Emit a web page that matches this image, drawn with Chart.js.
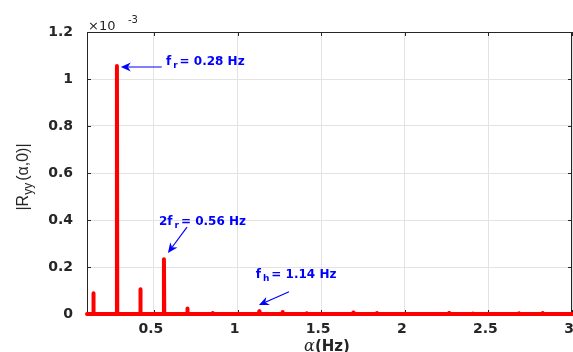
<!DOCTYPE html>
<html>
<head>
<meta charset="utf-8">
<script src="https://cdn.jsdelivr.net/npm/chart.js@4.4.0/dist/chart.umd.min.js"></script>
<style>
html, body { margin: 0; padding: 0; background: #fff; }
#wrap { width: 573px; height: 352px; }
</style>
</head>
<body>
<div id="wrap"><canvas id="cycChart" width="573" height="352"></canvas></div>
<script>
// Spectral lines: cyclic frequency (Hz) and |Ryy(alpha,0)| in units of 1e-3
const peakFreqs = [0.138, 0.279, 0.419, 0.560, 0.700, 0.852, 1.130, 1.269, 1.414, 1.692, 1.834, 2.265, 2.408, 2.683, 2.825];
const peakValues = [0.088, 1.055, 0.105, 0.233, 0.023, 0.004, 0.012, 0.009, 0.003, 0.006, 0.004, 0.004, 0.002, 0.003, 0.004];
const alphaRange = [0.1, 3];

const xTicks = [0.5, 1, 1.5, 2, 2.5, 3];
const xTickLabels = ['0.5', '1', '1.5', '2', '2.5', '3'];
const yTicks = [0, 0.2, 0.4, 0.6, 0.8, 1, 1.2];
const yTickLabels = ['0', '0.2', '0.4', '0.6', '0.8', '1', '1.2'];

// Text arrows, in data coordinates
const notes = [
    { main: 'f', sub: 'r', rest: '= 0.28 Hz', at: [0.572, 1.072], from: [0.547, 1.051], to: [0.302, 1.051] },
    { main: '2f', sub: 'r', rest: '= 0.56 Hz', at: [0.530, 0.393], from: [0.698, 0.370], to: [0.584, 0.260] },
    { main: 'f', sub: 'h', rest: '= 1.14 Hz', at: [1.109, 0.166], from: [1.308, 0.095], to: [1.128, 0.038] }
];

// build the line: flat zero with a narrow spike at each line
const spectrum = [{ x: alphaRange[0], y: 0 }];
peakFreqs.forEach((f, i) => {
    spectrum.push({ x: f - 0.002, y: 0 });
    spectrum.push({ x: f, y: peakValues[i] });
    spectrum.push({ x: f + 0.002, y: 0 });
});
spectrum.push({ x: alphaRange[1], y: 0 });

const axisColor = '#262626';
const tickFont = { family: '"DejaVu Sans"', size: 14, weight: 'bold' };

function drawArrow(ctx, x1, y1, x2, y2) {
    const a = Math.atan2(y2 - y1, x2 - x1);
    const L = 10, W = 4.5, notch = 3;
    const dx = Math.cos(a), dy = Math.sin(a);
    ctx.beginPath();
    ctx.moveTo(x1, y1);
    ctx.lineTo(x2 - dx * (L - notch), y2 - dy * (L - notch));
    ctx.stroke();
    ctx.beginPath();
    ctx.moveTo(x2, y2);
    ctx.lineTo(x2 - dx * L - dy * W, y2 - dy * L + dx * W);
    ctx.lineTo(x2 - dx * (L - notch), y2 - dy * (L - notch));
    ctx.lineTo(x2 - dx * L + dy * W, y2 - dy * L - dx * W);
    ctx.closePath();
    ctx.fill();
}

const frame = {
    id: 'frame',
    beforeDatasetsDraw(chart) {
        const { ctx, chartArea: a } = chart;
        ctx.save();
        ctx.strokeStyle = axisColor;
        ctx.lineWidth = 1;
        ctx.strokeRect(a.left + 0.5, a.top + 0.5, a.right - a.left - 1, a.bottom - a.top);
        // inward ticks
        const xs = chart.scales.x, ys = chart.scales.y;
        ctx.beginPath();
        xTicks.forEach(v => {
            const px = Math.round(xs.getPixelForValue(v)) + 0.5;
            ctx.moveTo(px, a.bottom); ctx.lineTo(px, a.bottom - 4);
            ctx.moveTo(px, a.top); ctx.lineTo(px, a.top + 4);
        });
        yTicks.forEach(v => {
            const py = Math.round(ys.getPixelForValue(v)) + 0.5;
            ctx.moveTo(a.left, py); ctx.lineTo(a.left + 4, py);
            ctx.moveTo(a.right, py); ctx.lineTo(a.right - 4, py);
        });
        ctx.stroke();
        ctx.restore();
    },
    afterDraw(chart) {
        const { ctx, chartArea: a } = chart;
        const xs = chart.scales.x, ys = chart.scales.y;
        ctx.save();

        // exponent
        ctx.fillStyle = axisColor;
        ctx.textBaseline = 'alphabetic';
        ctx.font = '13px "DejaVu Sans"';
        ctx.fillText('\u00d710', a.left + 1, 29.5);
        ctx.font = '10px "DejaVu Sans"';
        ctx.fillText('-3', a.left + 41, 23);

        // y title
        ctx.save();
        ctx.translate(24, (a.top + a.bottom) / 2 + 4);
        ctx.rotate(-Math.PI / 2);
        ctx.textBaseline = 'middle';
        const big = '16px "Liberation Sans"', small = '12px "Liberation Sans"';
        ctx.font = big;
        const w1 = ctx.measureText('|R').width;
        const w3 = ctx.measureText('(\u03b1,0)|').width;
        ctx.font = small;
        const w2 = ctx.measureText('yy').width + 2;
        let x = -(w1 + w2 + w3) / 2;
        ctx.font = big;
        ctx.fillText('|R', x, 0);
        ctx.font = small;
        ctx.fillText('yy', x + w1, 5);
        ctx.font = big;
        ctx.fillText('(\u03b1,0)|', x + w1 + w2, 0);
        ctx.restore();

        // x title
        ctx.textBaseline = 'alphabetic';
        const fa = 'italic 16px "DejaVu Serif"', fb = 'bold 15px "DejaVu Sans"';
        ctx.font = fa;
        const wa = ctx.measureText('\u03b1').width;
        ctx.font = fb;
        const wb = ctx.measureText('(Hz)').width;
        let tx = 327 - (wa + wb) / 2;
        ctx.font = fa;
        ctx.fillText('\u03b1', tx, 351);
        ctx.font = fb;
        ctx.fillText('(Hz)', tx + wa, 351);

        // annotations
        ctx.fillStyle = '#0000ff';
        ctx.strokeStyle = '#0000ff';
        ctx.lineWidth = 1.2;
        notes.forEach(n => {
            drawArrow(ctx, xs.getPixelForValue(n.from[0]), ys.getPixelForValue(n.from[1]),
                xs.getPixelForValue(n.to[0]), ys.getPixelForValue(n.to[1]));
            let px = xs.getPixelForValue(n.at[0]);
            const py = ys.getPixelForValue(n.at[1]);
            ctx.textBaseline = 'middle';
            ctx.font = 'bold 12px "DejaVu Sans"';
            ctx.fillText(n.main, px, py);
            px += ctx.measureText(n.main).width + 2;
            ctx.font = 'bold 9px "DejaVu Sans"';
            ctx.fillText(n.sub, px, py + 4);
            px += ctx.measureText(n.sub).width + 2;
            ctx.font = 'bold 12px "DejaVu Sans"';
            ctx.fillText(n.rest, px, py);
        });
        ctx.restore();
    }
};

new Chart(document.getElementById('cycChart'), {
    type: 'line',
    data: {
        datasets: [{
            data: spectrum,
            borderColor: '#ff0000',
            borderWidth: 4,
            pointRadius: 0,
            tension: 0,
            borderJoinStyle: 'round',
            borderCapStyle: 'round',
            clip: 6
        }]
    },
    options: {
        responsive: false,
        animation: false,
        layout: { autoPadding: false, padding: { top: 32, right: 1, left: 0, bottom: 0 } },
        plugins: { legend: { display: false }, tooltip: { enabled: false } },
        scales: {
            x: {
                type: 'linear',
                min: alphaRange[0],
                max: alphaRange[1],
                afterBuildTicks: s => { s.ticks = xTicks.map(v => ({ value: v })); },
                afterFit: s => { s.height = 38; s.paddingLeft = 0; s.paddingRight = 0; },
                grid: { color: '#e3e3e3', drawTicks: false },
                border: { display: false },
                ticks: {
                    callback: (v, i) => xTickLabels[i],
                    font: tickFont, color: axisColor,
                    padding: 7, labelOffset: -3, maxRotation: 0, autoSkip: false
                }
            },
            y: {
                min: 0,
                max: 1.2,
                afterBuildTicks: s => { s.ticks = yTicks.map(v => ({ value: v })); },
                afterFit: s => { s.width = 87; s.paddingTop = 0; s.paddingBottom = 0; },
                grid: { color: '#e3e3e3', drawTicks: false },
                border: { display: false },
                ticks: {
                    callback: (v, i) => yTickLabels[i],
                    font: tickFont, color: axisColor,
                    padding: 14, autoSkip: false
                }
            }
        }
    },
    plugins: [frame]
});
</script>
</body>
</html>
